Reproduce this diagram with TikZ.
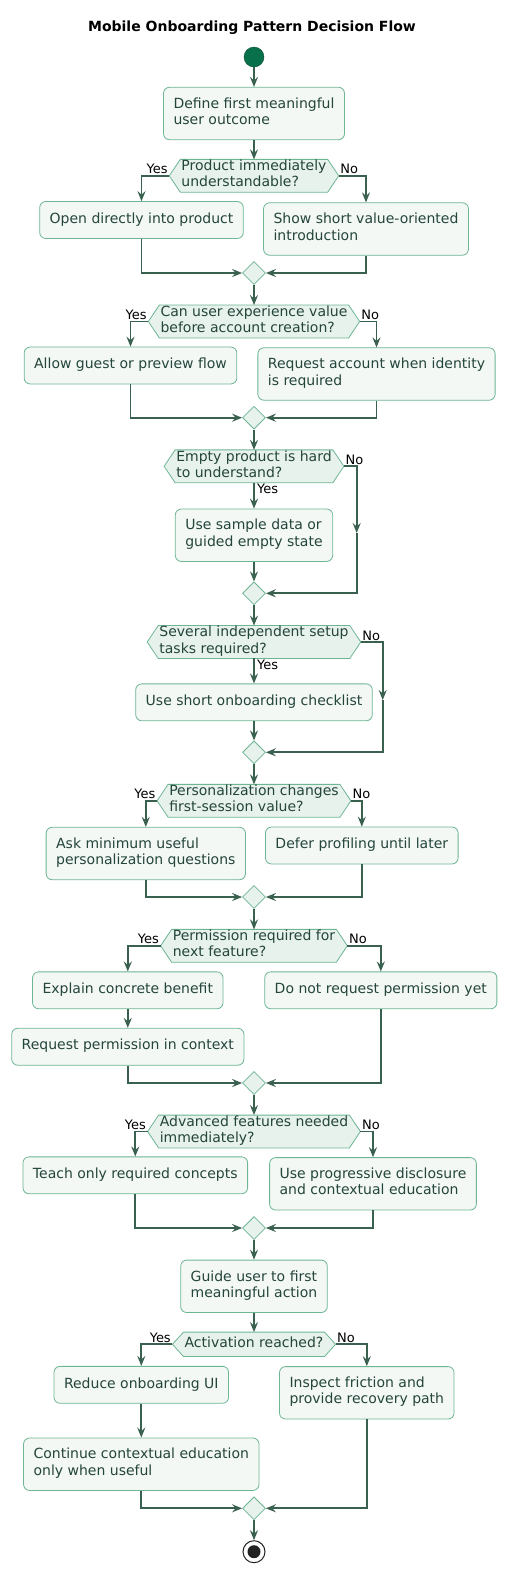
\documentclass[tikz,border=0pt]{standalone}
\usepackage{fontspec}
\setmainfont{DejaVu Sans}
\usetikzlibrary{arrows.meta,shapes.geometric,backgrounds}
\definecolor{flowc}{HTML}{3A6150}
\definecolor{edgec}{HTML}{6DB593}
\definecolor{boxc}{HTML}{F3F8F5}
\definecolor{hexc}{HTML}{E7F2EC}
\definecolor{textc}{HTML}{24453A}
\definecolor{startc}{HTML}{08704A}
\definecolor{startedge}{HTML}{0B4D33}
\definecolor{stopc}{HTML}{222222}
\newcommand{\boxfont}{\fontsize{14}{16.3}\selectfont}
\newcommand{\labelfont}{\fontsize{13}{15}\selectfont}
\newcommand{\titlefont}{\fontsize{14}{16}\selectfont\bfseries}
\tikzset{
  actbox/.style={rectangle, rounded corners=6pt, draw=edgec, line width=0.8pt,
    fill=boxc, text=textc, font=\boxfont, align=left, inner xsep=10pt,
    inner ysep=10.3pt, execute at begin node=\strut, execute at end node=\strut},
  ask/.style={rectangle, text=textc, font=\boxfont, align=left, inner xsep=12pt,
    inner ysep=0.3pt, minimum height=24pt,
    execute at begin node=\strut, execute at end node=\strut},
  hexshape/.style={fill=hexc, draw=edgec, line width=0.8pt},
  merge/.style={diamond, draw=edgec, fill=hexc, line width=0.8pt,
    minimum width=23pt, minimum height=23pt, inner sep=0pt},
  flow/.style={draw=flowc, line width=1.9pt, -{Stealth[length=10pt,width=8pt,inset=3.5pt]}},
  branch/.style={font=\labelfont, inner sep=1.5pt},
}
\begin{document}
\begin{tikzpicture}[x=1pt, y=-1pt]
  \useasboundingbox (0,0) rectangle (507,1572);
  \node[font=\titlefont] (title) at (252,28) {Mobile Onboarding Pattern Decision Flow};
  \node[circle, fill=startc, draw=startedge, minimum size=20pt, inner sep=0pt] (start) at (254,57) {};

  % activities and decisions
  \node[actbox] (a1) at (254,113.5) {Define first meaningful\\user outcome};
  \node[ask] (d1) at (254,175.8) {Product immediately\\understandable?};
  \node[actbox] (a2l) at (141.5,220) {Open directly into product};
  \node[actbox] (a2r) at (366,229) {Show short value-oriented\\introduction};
  \node[merge] (m1) at (254,273) {};

  \node[ask] (d2) at (254,321.5) {Can user experience value\\before account creation?};
  \node[actbox] (a3l) at (130.5,365.5) {Allow guest or preview flow};
  \node[actbox] (a3r) at (376.5,374) {Request account when identity\\is required};
  \node[merge] (m2) at (254,417.7) {};

  \node[ask] (d3) at (254,466.3) {Empty product is hard\\to understand?};
  \node[actbox] (a4) at (254,535.2) {Use sample data or\\guided empty state};
  \node[merge] (m3) at (254,593.3) {};
  \coordinate (k3) at (356.7,533);

  \node[ask] (d4) at (254,642) {Several independent setup\\tasks required?};
  \node[actbox] (a5) at (254,702.3) {Use short onboarding checklist};
  \node[merge] (m4) at (254,752.3) {};
  \coordinate (k4) at (382.7,700);

  \node[ask] (d5) at (254,800.8) {Personalization changes\\first-session value?};
  \node[actbox] (a6l) at (145.8,853.5) {Ask minimum useful\\personalization questions};
  \node[actbox] (a6r) at (361.8,845.5) {Defer profiling until later};
  \node[merge] (m5) at (254,897) {};

  \node[ask] (d6) at (254,945.8) {Permission required for\\next feature?};
  \node[actbox] (a7l) at (127.8,990.3) {Explain concrete benefit};
  \node[actbox] (a8l) at (127.8,1046.7) {Request permission in context};
  \node[actbox] (a7r) at (380.8,990.3) {Do not request permission yet};
  \node[merge] (m6) at (254,1083) {};

  \node[ask] (d7) at (254,1131.5) {Advanced features needed\\immediately?};
  \node[actbox] (a9l) at (135.3,1175.3) {Teach only required concepts};
  \node[actbox] (a9r) at (373,1183.8) {Use progressive disclosure\\and contextual education};
  \node[merge] (m7) at (254,1228) {};

  \node[actbox] (a10) at (254,1286.3) {Guide user to first\\meaningful action};
  \node[ask] (d8) at (254,1344.3) {Activation reached?};
  \node[actbox] (a11l) at (141.3,1384.8) {Reduce onboarding UI};
  \node[actbox] (a12l) at (141.3,1464.2) {Continue contextual education\\only when useful};
  \node[actbox] (a11r) at (366.8,1392.8) {Inspect friction and\\provide recovery path};
  \node[merge] (m8) at (254,1508.3) {};

  \node[circle, draw=stopc, fill=white, line width=1pt, minimum size=22pt, inner sep=0pt] (stop) at (254,1551.7) {};
  \node[circle, fill=stopc, minimum size=13pt, inner sep=0pt] (stopdot) at (stop) {};

  % hexagons behind the questions
  \begin{scope}[on background layer]
    \foreach \i in {1,...,8}
      \filldraw[hexshape] (d\i.west) -- ([xshift=11pt]d\i.north west) -- ([xshift=-11pt]d\i.north east)
        -- (d\i.east) -- ([xshift=-11pt]d\i.south east) -- ([xshift=11pt]d\i.south west) -- cycle;
  \end{scope}

  % branch labels
  \foreach \i in {1,2,5,6,7,8}
    \node[branch, anchor=south east] (y\i) at (d\i.west) {Yes};
  \foreach \i in {1,...,8}
    \node[branch, anchor=south west] (n\i) at (d\i.east) {No};
  \node[branch, anchor=north west, xshift=1.5pt] (y3) at (d3.south) {Yes};
  \node[branch, anchor=north west, xshift=1.5pt] (y4) at (d4.south) {Yes};

  % connectors
  \draw[flow] (start) -- (a1);
  \draw[flow] (a1) -- (d1);
  \draw[flow] (d1.west) -| (a2l.north);
  \draw[flow] (d1.east) -| (a2r.north);
  \draw[flow] (a2l.south) |- (m1.west);
  \draw[flow] (a2r.south) |- (m1.east);
  \draw[flow] (m1) -- (d2);
  \draw[flow] (d2.west) -| (a3l.north);
  \draw[flow] (d2.east) -| (a3r.north);
  \draw[flow] (a3l.south) |- (m2.west);
  \draw[flow] (a3r.south) |- (m2.east);
  \draw[flow] (m2) -- (d3);
  \draw[flow] (d3) -- (a4);
  \draw[flow] (d3.east) -| (k3);
  \draw[flow] (k3) |- (m3.east);
  \draw[flow] (a4) -- (m3);
  \draw[flow] (m3) -- (d4);
  \draw[flow] (d4) -- (a5);
  \draw[flow] (d4.east) -| (k4);
  \draw[flow] (k4) |- (m4.east);
  \draw[flow] (a5) -- (m4);
  \draw[flow] (m4) -- (d5);
  \draw[flow] (d5.west) -| (a6l.north);
  \draw[flow] (d5.east) -| (a6r.north);
  \draw[flow] (a6l.south) |- (m5.west);
  \draw[flow] (a6r.south) |- (m5.east);
  \draw[flow] (m5) -- (d6);
  \draw[flow] (d6.west) -| (a7l.north);
  \draw[flow] (d6.east) -| (a7r.north);
  \draw[flow] (a7l) -- (a8l);
  \draw[flow] (a8l.south) |- (m6.west);
  \draw[flow] (a7r.south) |- (m6.east);
  \draw[flow] (m6) -- (d7);
  \draw[flow] (d7.west) -| (a9l.north);
  \draw[flow] (d7.east) -| (a9r.north);
  \draw[flow] (a9l.south) |- (m7.west);
  \draw[flow] (a9r.south) |- (m7.east);
  \draw[flow] (m7) -- (a10);
  \draw[flow] (a10) -- (d8);
  \draw[flow] (d8.west) -| (a11l.north);
  \draw[flow] (d8.east) -| (a11r.north);
  \draw[flow] (a11l) -- (a12l);
  \draw[flow] (a12l.south) |- (m8.west);
  \draw[flow] (a11r.south) |- (m8.east);
  \draw[flow] (m8) -- (stop);
\end{tikzpicture}
\end{document}
